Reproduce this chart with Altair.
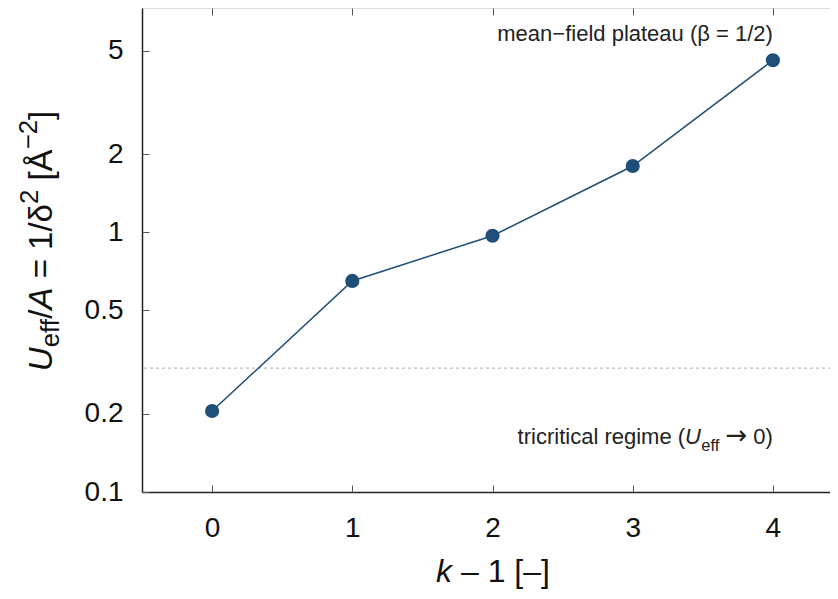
import altair as alt
import pandas as pd

# ---------------- data ----------------
k_minus_1 = [0, 1, 2, 3, 4]
u_eff_over_a = [0.205, 0.65, 0.97, 1.8, 4.6]
x_ticks = [0, 1, 2, 3, 4]
y_ticks = [0.1, 0.2, 0.5, 1, 2, 5]
ref_level = [0.3]
x_domain = [-0.5, 4.5]
y_domain = [0.1, 7.31]
ann_x = [4, 4]
ann_y = [5.45, 0.153]
ann_upper = "mean\u2212field plateau (\u03b2 = 1/2)"

FONT = "Liberation Sans"
LINE_COLOR = "#1f4e79"
W, H = 701, 484

df = pd.DataFrame({"k": k_minus_1, "u": u_eff_over_a})
ref_df = pd.DataFrame({"u": ref_level})
one = pd.DataFrame({"a": [0]})

# Arial / Liberation Sans advance widths (per 1000 em) for layout of composite text
ADV = {' ': 278, '(': 333, ')': 333, '/': 278, '=': 584, 'A': 667, 'U': 722,
       '\u00c5': 667, '[': 278, ']': 278, 'a': 556, 'c': 500, 'd': 556, 'e': 556,
       'f': 278, 'g': 556, 'i': 222, 'k': 500, 'l': 222, 'm': 833, 'n': 556,
       'p': 556, 'r': 333, 't': 278, 'u': 556, '\u03b2': 575, '\u03b4': 556,
       '\u2212': 584, '\u2013': 556}


def tw(s, size):
    return sum(ADV.get(c, 556) for c in s) * size / 1000.0


xs = alt.Scale(domain=x_domain, nice=False, zero=False)
ys = alt.Scale(type="log", domain=y_domain, nice=False)

tick_axis = dict(domain=False, labels=False, ticks=True, tickSize=7, offset=-7,
                 tickColor="#555555", tickWidth=1, grid=False, title=None)

# main line with labelled axes (bottom/left)
line = alt.Chart(df).mark_line(color=LINE_COLOR, strokeWidth=1.5).encode(
    x=alt.X("k:Q", scale=xs, axis=alt.Axis(
        orient="bottom", values=x_ticks, format="d", domain=True, domainColor="#222222",
        domainWidth=1.5, ticks=False, tickSize=0, labelFontSize=28, labelFont=FONT,
        labelColor="#111111", labelPadding=22, grid=False, title=None)),
    y=alt.Y("u:Q", scale=ys, axis=alt.Axis(
        orient="left", values=y_ticks, format="~g", domain=True, domainColor="#222222",
        domainWidth=1.5, ticks=False, tickSize=0, labelFontSize=28, labelFont=FONT,
        labelColor="#111111", labelPadding=19, grid=False, title=None)),
)

# points, carrying inward ticks on bottom/left
points = alt.Chart(df).mark_circle(size=200, color=LINE_COLOR, opacity=1).encode(
    x=alt.X("k:Q", scale=xs, axis=alt.Axis(orient="bottom", values=x_ticks, **tick_axis)),
    y=alt.Y("u:Q", scale=ys, axis=alt.Axis(orient="left", values=y_ticks, **tick_axis)),
)

# invisible layer carrying inward mirrored ticks on top/right
mirror = alt.Chart(df).mark_point(opacity=0).encode(
    x=alt.X("k:Q", scale=xs, axis=alt.Axis(orient="top", values=x_ticks, **tick_axis)),
    y=alt.Y("u:Q", scale=ys, axis=alt.Axis(orient="right", values=y_ticks, **tick_axis)),
)

ref = alt.Chart(ref_df).mark_rule(color="#aaaaaa", strokeWidth=1, strokeDash=[3, 3]).encode(
    y=alt.Y("u:Q", scale=ys, axis=None)
)

layers = [ref, line, points, mirror]

# ---- annotations ----
AF = 22
ann_df = pd.DataFrame({"x": ann_x, "y": ann_y})
upper = alt.Chart(ann_df.iloc[[0]]).mark_text(
    text=ann_upper, font=FONT, fontSize=AF, align="right", baseline="alphabetic",
    color="#222222").encode(
    x=alt.X("x:Q", scale=xs, axis=None), y=alt.Y("y:Q", scale=ys, axis=None))
layers.append(upper)

lower_df = ann_df.iloc[[1]]
s_sub = 0.75 * AF
ARROW_SIZE = 26
w0 = tw("0)", AF)
w_gap = tw(" ", AF)
w_arrow = 0.838 * ARROW_SIZE
w_eff = tw("eff", s_sub)
w_u = tw("U", AF)
lower_pieces = [
    ("0)", 0, 0, AF, "normal", FONT),
    ("\u2192", -(w0 + w_gap), -0.5, ARROW_SIZE, "normal", "DejaVu Sans"),
    ("eff", -(w0 + 2 * w_gap + w_arrow), 0.3 * AF, s_sub, "normal", FONT),
    ("U", -(w0 + 2 * w_gap + w_arrow + w_eff), 0, AF, "italic", FONT),
    ("tricritical regime (", -(w0 + 2 * w_gap + w_arrow + w_eff + w_u), 0, AF, "normal", FONT),
]
for txt, dx, dy, size, style, fnt in lower_pieces:
    layers.append(alt.Chart(lower_df).mark_text(
        text=txt, font=fnt, fontSize=size, fontStyle=style, align="right",
        baseline="alphabetic", dx=dx, dy=dy, color="#222222").encode(
        x=alt.X("x:Q", scale=xs, axis=None), y=alt.Y("y:Q", scale=ys, axis=None)))

# ---- y-axis title (rotated, composite) ----
TF = 33
ts = 0.78 * TF
ytitle = [
    ("U", TF, 0, "italic"),
    ("eff", ts, 0.22 * TF, "normal"),
    ("/", TF, 0, "normal"),
    ("A", TF, 0, "italic"),
    (" = 1/\u03b4", TF, 0, "normal"),
    ("2", ts, -0.42 * TF, "normal"),
    (None, TF, 0, "gap"),
    ("[\u00c5", TF, 0, "normal"),
    ("\u22122", ts, -0.45 * TF, "normal"),
    ("]", TF, 0, "normal"),
]
total = sum(tw(t if t else " ", s) for t, s, _, _ in ytitle)
pos = -total / 2
YT_X, YT_Y = -90, 233
for t, s, dy, style in ytitle:
    if t is None:
        pos += tw(" ", s)
        continue
    lead = tw(" ", s) if t.startswith(" ") else 0
    layers.append(alt.Chart(one).mark_text(
        text=t.strip(), font=FONT, fontSize=s, fontStyle=style, align="left",
        baseline="alphabetic", angle=270, dx=pos + lead, dy=dy, color="#111111").encode(
        x=alt.value(YT_X), y=alt.value(YT_Y)))
    pos += tw(t, s)

# ---- x-axis title (composite) ----
XF = 32
XT_X, XT_Y = 351, 574
xt_total = tw("k", XF) + tw(" ", XF) + tw("\u2013 1 [\u2013]", XF)
x0 = -xt_total / 2
layers.append(alt.Chart(one).mark_text(
    text="k", font=FONT, fontSize=XF, fontStyle="italic", align="left",
    baseline="alphabetic", dx=x0, color="#111111").encode(
    x=alt.value(XT_X), y=alt.value(XT_Y)))
layers.append(alt.Chart(one).mark_text(
    text="\u2013 1 [\u2013]", font=FONT, fontSize=XF, align="left",
    baseline="alphabetic", dx=x0 + tw("k", XF) + tw(" ", XF), color="#111111").encode(
    x=alt.value(XT_X), y=alt.value(XT_Y)))

chart = alt.layer(*layers).resolve_axis(x="independent", y="independent").properties(
    width=W, height=H,
    autosize=alt.AutoSizeParams(type="none"),
    padding={"left": 134, "top": 0, "right": -13, "bottom": 99},
).configure_view(stroke=None).configure(background="white")

chart.save("out.html", embed_options={"renderer": "svg", "actions": False})
